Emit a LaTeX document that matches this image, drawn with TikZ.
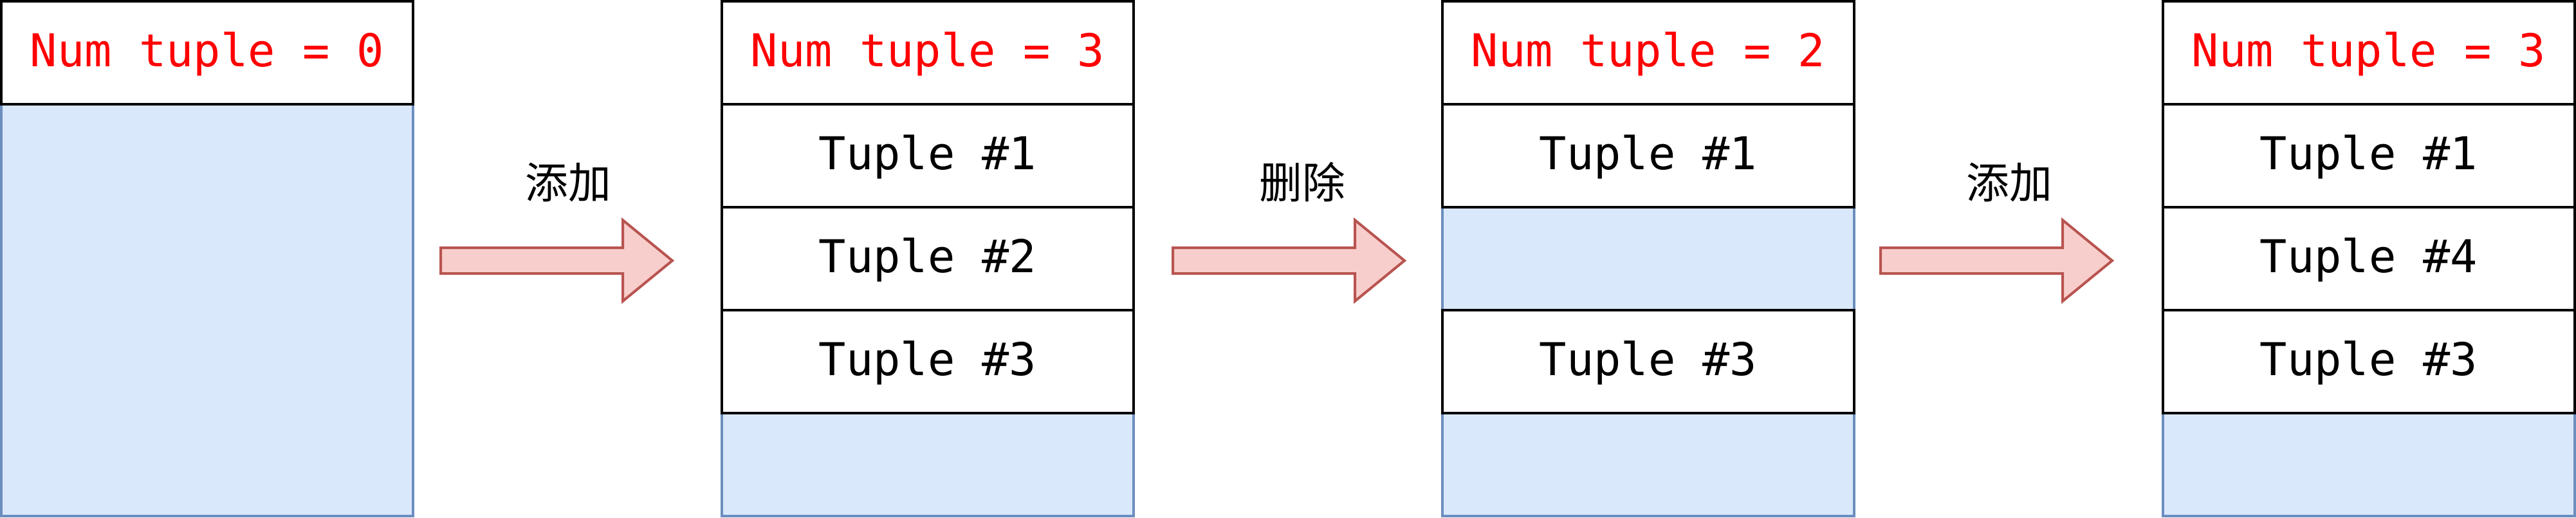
\documentclass[tikz,border=0pt]{standalone}
\usepackage{fontspec}
\setmonofont{DejaVu Sans Mono}
\newfontfamily\cjk{Noto Sans CJK SC}
\definecolor{pagefill}{HTML}{DAE8FC}
\definecolor{pageline}{HTML}{6C8EBF}
\definecolor{arrowfill}{HTML}{F8CECC}
\definecolor{arrowline}{HTML}{B85450}
\tikzset{
  page/.style={draw=pageline, fill=pagefill, line width=0.04cm},
  slot/.style={draw=black, fill=white, line width=0.04cm, minimum width=6.4cm,
    minimum height=1.6cm, inner sep=0pt, text depth=0.1cm,
    font=\ttfamily\fontsize{20pt}{24pt}\selectfont},
  head/.style={slot, text=red},
  bigarrow/.style={draw=arrowline, fill=arrowfill, line width=0.04cm, line join=miter},
  oplabel/.style={font=\cjk\fontsize{19pt}{22pt}\selectfont}
}

\begin{document}
\begin{tikzpicture}
\useasboundingbox (-0.02,0.02) rectangle (40.02,-8.02);
% free space of each page
\foreach \x in {0,11.2,22.4,33.6}
  \draw[page] (\x,0) rectangle ++(6.4,-8);
% page 1
\node[head] (h1) at (3.2,-0.8) {Num tuple = 0};
% page 2
\node[head] (h2) at (14.4,-0.8) {Num tuple = 3};
\node[slot] (p2t1) at (14.4,-2.4) {Tuple \#1};
\node[slot] (p2t2) at (14.4,-4.0) {Tuple \#2};
\node[slot] (p2t3) at (14.4,-5.6) {Tuple \#3};
% page 3
\node[head] (h3) at (25.6,-0.8) {Num tuple = 2};
\node[slot] (p3t1) at (25.6,-2.4) {Tuple \#1};
\node[slot] (p3t3) at (25.6,-5.6) {Tuple \#3};
% page 4
\node[head] (h4) at (36.8,-0.8) {Num tuple = 3};
\node[slot] (p4t1) at (36.8,-2.4) {Tuple \#1};
\node[slot] (p4t4) at (36.8,-4.0) {Tuple \#4};
\node[slot] (p4t3) at (36.8,-5.6) {Tuple \#3};
% arrows between the pages
\foreach \x in {6.83,18.21,29.21}
  \draw[bigarrow] (\x,-3.83) -- ++(2.83,0) -- ++(0,0.43) -- ++(0.77,-0.63)
    -- ++(-0.77,-0.63) -- ++(0,0.43) -- ++(-2.83,0) -- cycle;
\node[oplabel] (add1) at (8.81,-2.81) {添加};
\node[oplabel] (del) at (20.22,-2.81) {删除};
\node[oplabel] (add2) at (31.21,-2.81) {添加};
\end{tikzpicture}
\end{document}
